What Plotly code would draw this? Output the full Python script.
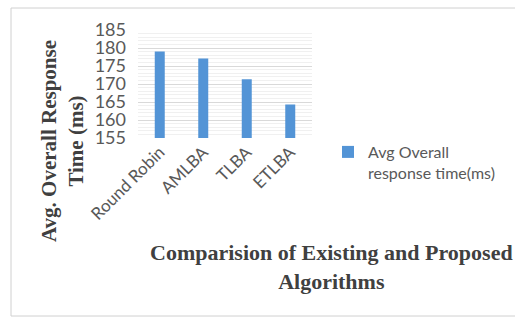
import plotly.graph_objects as go

categories = ["Round Robin", "AMLBA", "TLBA", "ETLBA"]
values = [179.0, 177.1, 171.3, 164.3]
series_name = "Avg Overall<br>response time(ms)"
y_ticks = [155, 160, 165, 170, 175, 180, 185]

W, H = 515, 318
L, R, T, B = 138, 203, 30, 180
PW, PH = W - L - R, H - T - B

fig = go.Figure()
fig.add_trace(go.Bar(
    x=categories, y=values, name=series_name,
    marker=dict(color="#5394d6", line=dict(width=0)),
    showlegend=True,
))

fig.update_layout(
    width=W, height=H,
    margin=dict(l=L, r=R, t=T, b=B, autoexpand=False),
    paper_bgcolor="white", plot_bgcolor="white",
    bargap=0.77,
    showlegend=True,
    legend=dict(x=(328 - L) / PW, y=(138 - 135) / PH, xanchor="left", yanchor="top",
                font=dict(family="Lato, Open Sans, sans-serif", size=16, color="#595959"),
                bgcolor="rgba(0,0,0,0)", itemsizing="constant", itemwidth=30, valign="top"),
    xaxis=dict(
        tickangle=-45, tickfont=dict(family="Lato, Open Sans, sans-serif", size=17, color="#595959"),
        showline=False, ticks="", showgrid=False,
    ),
    yaxis=dict(
        range=[155, 185], tickvals=y_ticks, ticktext=[str(v) for v in y_ticks],
        tickfont=dict(family="Lato, Open Sans, sans-serif", size=18, color="#595959"),
        showgrid=True, gridcolor="#d9d9d9", gridwidth=1,
        minor=dict(dtick=1, showgrid=True, gridcolor="#f0f0f0", gridwidth=1),
        zeroline=False, showline=False, ticks="", ticklabelstandoff=11,
    ),
    font=dict(family="Liberation Serif", color="#404040"),
)

fig.add_annotation(
    text="<b>Avg. Overall Response<br>Time (ms)</b>",
    xref="paper", yref="paper", x=(62 - L) / PW, y=(138 - 141) / PH,
    xanchor="center", yanchor="middle", textangle=-90, showarrow=False,
    font=dict(family="Liberation Serif", size=21, color="#404040"), align="center",
    borderpad=0,
)
fig.add_annotation(
    text="<b>Comparision of Existing and Proposed<br>Algorithms</b>",
    xref="paper", yref="paper", x=(331 - L) / PW, y=(138 - 267) / PH,
    xanchor="center", yanchor="middle", showarrow=False,
    font=dict(family="Liberation Serif", size=22, color="#404040"), align="center",
)
# chart frame (left, top, bottom edges; right edge lies beyond the window)
x_left, x_right = (11 - L) / PW, (620 - L) / PW
y_bot, y_top = (138 - 316) / PH, (138 - 8) / PH
for (xa, ya, xb, yb) in [(x_left, y_bot, x_left, y_top),
                         (x_left, y_top, x_right, y_top),
                         (x_left, y_bot, x_right, y_bot)]:
    fig.add_shape(type="line", xref="paper", yref="paper", x0=xa, y0=ya, x1=xb, y1=yb,
                  line=dict(color="#d0d0d0", width=1), layer="below")

fig.write_html("out.html", config={"displayModeBar": False},
               post_script="document.body.style.margin='0';")
